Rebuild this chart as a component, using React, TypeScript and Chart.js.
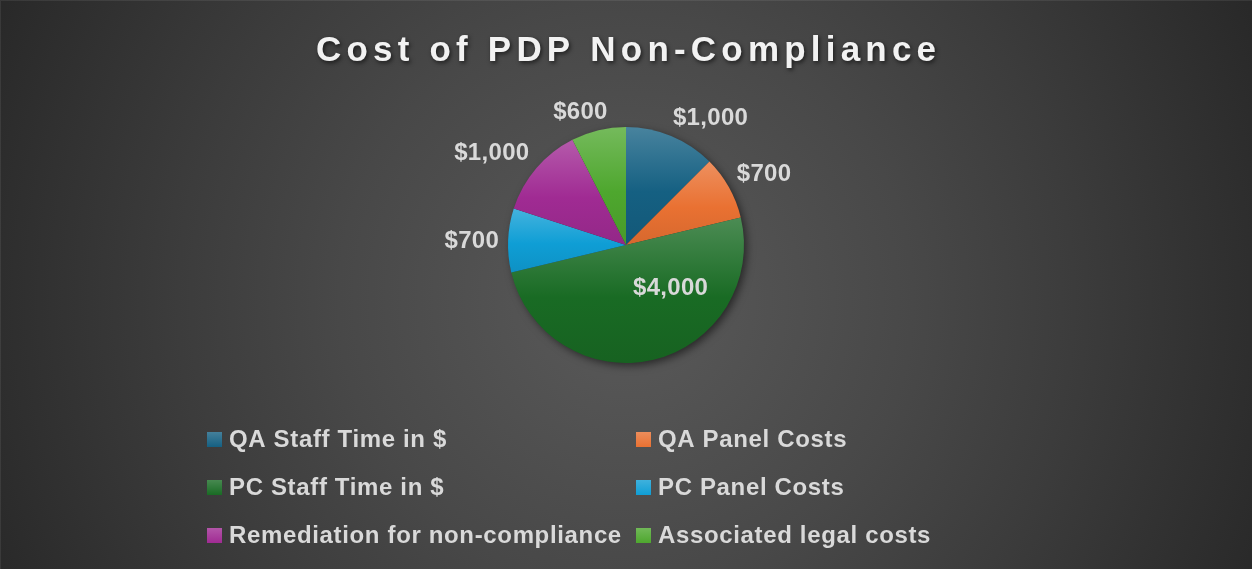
import React, { useEffect, useRef } from "react";
import { Chart, registerables } from "chart.js";

Chart.register(...registerables);

const TITLE = "Cost of PDP Non-Compliance";
const categories = [
  "QA Staff Time in $",
  "QA Panel Costs",
  "PC Staff Time in $",
  "PC Panel Costs",
  "Remediation for non-compliance",
  "Associated legal costs",
];
const costs = [1000, 700, 4000, 700, 1000, 600];
const sliceColors = ["#156082", "#E97132", "#196B24", "#0F9ED5", "#A02B93", "#4EA72E"];

const W = 1252;
const H = 569;
const FONT = '"Liberation Sans", Arial, sans-serif';
const TEXT_COLOR = "#d9d9d9";

function hexToRgb(hex: string) {
  const n = parseInt(hex.slice(1), 16);
  return [(n >> 16) & 255, (n >> 8) & 255, n & 255];
}
function mix(hex: string, target: number[], t: number) {
  const c = hexToRgb(hex);
  const r = c.map((v, i) => Math.round(v + (target[i] - v) * t));
  return `rgb(${r[0]},${r[1]},${r[2]})`;
}

function sliceGradient(ctx: any) {
  const chart = ctx.chart;
  const i = ctx.dataIndex;
  const base = sliceColors[i];
  const area = chart.chartArea;
  if (!area || i === undefined) return base;
  const cx = (area.left + area.right) / 2;
  const cy = (area.top + area.bottom) / 2;
  const r = Math.min(area.right - area.left, area.bottom - area.top) / 2;
  const data = chart.data.datasets[0].data as number[];
  const total = data.reduce((a, b) => a + b, 0);
  let acc = 0;
  for (let k = 0; k < i; k++) acc += data[k];
  const s = -Math.PI / 2 + (acc / total) * Math.PI * 2;
  const e = s + (data[i] / total) * Math.PI * 2;
  const ys = [cy, cy + r * Math.sin(s), cy + r * Math.sin(e)];
  const norm = (a: number) => ((a % (2 * Math.PI)) + 2 * Math.PI) % (2 * Math.PI);
  const inRange = (a: number) => norm(a - s) <= e - s;
  if (inRange(-Math.PI / 2)) ys.push(cy - r);
  if (inRange(Math.PI / 2)) ys.push(cy + r);
  const y0 = Math.min(...ys);
  const y1 = Math.max(...ys);
  const g = chart.ctx.createLinearGradient(0, y0, 0, y1);
  g.addColorStop(0, mix(base, [255, 255, 255], 0.22));
  g.addColorStop(0.55, base);
  g.addColorStop(1, mix(base, [0, 0, 0], 0.08));
  return g;
}

const backgroundPlugin = {
  id: "bgPlugin",
  beforeDraw(chart: any) {
    const { ctx, width, height } = chart;
    ctx.save();
    const g = ctx.createRadialGradient(width / 2, 300, 0, width / 2, 300, 700);
    g.addColorStop(0, "#5a5a5a");
    g.addColorStop(0.41, "#484848");
    g.addColorStop(0.64, "#3c3c3c");
    g.addColorStop(1, "#282828");
    ctx.fillStyle = g;
    ctx.fillRect(0, 0, width, height);
    ctx.strokeStyle = "rgba(255,255,255,0.08)";
    ctx.lineWidth = 1;
    ctx.beginPath();
    ctx.moveTo(0.5, height);
    ctx.lineTo(0.5, 0.5);
    ctx.lineTo(width, 0.5);
    ctx.stroke();
    ctx.restore();
  },
  beforeDatasetsDraw(chart: any) {
    const meta = chart.getDatasetMeta(0);
    const arc = meta.data[0];
    if (!arc) return;
    const { x, y, outerRadius } = arc.getProps(["x", "y", "outerRadius"], true);
    const ctx = chart.ctx;
    ctx.save();
    ctx.shadowColor = "rgba(0,0,0,0.55)";
    ctx.shadowBlur = 9;
    ctx.shadowOffsetX = 3;
    ctx.shadowOffsetY = 3;
    ctx.fillStyle = "#303030";
    ctx.beginPath();
    ctx.arc(x, y, outerRadius - 0.5, 0, Math.PI * 2);
    ctx.fill();
    ctx.restore();
  },
  afterDatasetsDraw(chart: any) {
    const ctx = chart.ctx;
    const meta = chart.getDatasetMeta(0);
    const data = chart.data.datasets[0].data as number[];
    const total = data.reduce((a, b) => a + b, 0);
    ctx.save();
    ctx.font = `bold 24px ${FONT}`;
    (ctx as any).letterSpacing = "0.3px";
    ctx.fillStyle = TEXT_COLOR;
    ctx.textAlign = "center";
    ctx.textBaseline = "middle";
    meta.data.forEach((arc: any, i: number) => {
      const p = arc.getProps(["x", "y", "startAngle", "endAngle", "outerRadius"], true);
      const mid = (p.startAngle + p.endAngle) / 2;
      const text = "$" + data[i].toLocaleString("en-US");
      const w = ctx.measureText(text).width;
      const h = 22;
      let lx: number, ly: number;
      if (data[i] / total > 0.4) {
        const a = mid - (32 * Math.PI) / 180;
        const rr = p.outerRadius * 0.53;
        lx = p.x + rr * Math.cos(a);
        ly = p.y + rr * Math.sin(a);
      } else {
        const rr = p.outerRadius + 9;
        const ax = p.x + rr * Math.cos(mid);
        const ay = p.y + rr * Math.sin(mid);
        const clamp = (v: number) => Math.max(-1, Math.min(1, v));
        lx = ax + clamp(2.5 * Math.cos(mid)) * (w / 2);
        ly = ay + clamp(2.5 * Math.sin(mid)) * (h / 2) + 2;
      }
      ctx.fillText(text, lx, ly);
    });
    ctx.restore();
  },
  afterDraw(chart: any) {
    const ctx = chart.ctx;
    ctx.save();
    ctx.font = `bold 35px ${FONT}`;
    const spacing = 5.2;
    (ctx as any).letterSpacing = `${spacing}px`;
    const tw = ctx.measureText(TITLE).width - spacing;
    ctx.textAlign = "left";
    ctx.textBaseline = "alphabetic";
    ctx.shadowColor = "rgba(0,0,0,0.6)";
    ctx.shadowBlur = 4;
    ctx.shadowOffsetX = 1.5;
    ctx.shadowOffsetY = 2;
    ctx.fillStyle = "#f2f2f2";
    ctx.fillText(TITLE, chart.width / 2 - tw / 2, 61);
    ctx.restore();

    const cols = [207, 636];
    const rowCenter0 = 439.5;
    const rowGap = 48;
    const box = 15;
    ctx.save();
    ctx.font = `bold 24px ${FONT}`;
    (ctx as any).letterSpacing = "0.65px";
    ctx.textAlign = "left";
    ctx.textBaseline = "middle";
    chart.data.labels.forEach((label: string, i: number) => {
      const col = i % 2;
      const row = Math.floor(i / 2);
      const x = cols[col];
      const yc = rowCenter0 + row * rowGap;
      const g = ctx.createLinearGradient(0, yc - box / 2, 0, yc + box / 2);
      g.addColorStop(0, mix(sliceColors[i], [255, 255, 255], 0.2));
      g.addColorStop(1, sliceColors[i]);
      ctx.fillStyle = g;
      ctx.fillRect(x, yc - box / 2, box, box);
      ctx.fillStyle = TEXT_COLOR;
      ctx.fillText(label, x + 22, yc + 0.5);
    });
    ctx.restore();
  },
};

export default function App() {
  const canvasRef = useRef<HTMLCanvasElement | null>(null);
  useEffect(() => {
    if (!canvasRef.current) return;
    const chart = new Chart(canvasRef.current, {
      type: "pie",
      data: {
        labels: categories,
        datasets: [
          {
            data: costs,
            backgroundColor: sliceGradient as any,
            borderWidth: 0,
          },
        ],
      },
      options: {
        responsive: false,
        animation: false,
        devicePixelRatio: 1,
        layout: { padding: { top: 127, bottom: 206, left: 0, right: 0 } },
        plugins: {
          legend: { display: false },
          title: { display: false },
          tooltip: { enabled: false },
        },
      },
      plugins: [backgroundPlugin],
    });
    return () => chart.destroy();
  }, []);
  return (
    <div style={{ position: "fixed", left: 0, top: 0, width: W, height: H }}>
      <canvas ref={canvasRef} width={W} height={H} style={{ display: "block", width: W, height: H }} />
    </div>
  );
}
